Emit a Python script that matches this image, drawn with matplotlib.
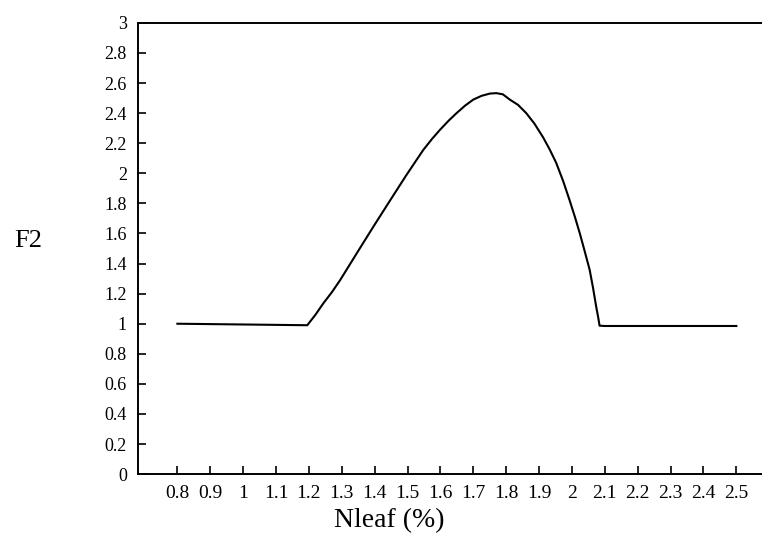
import matplotlib
matplotlib.use("Agg")
import matplotlib.pyplot as plt

# F2 response to leaf nitrogen
nleaf = [0.8, 1.0, 1.195, 1.22, 1.244, 1.27, 1.295, 1.346, 1.396, 1.447,
         1.497, 1.548, 1.575, 1.599, 1.625, 1.649, 1.675, 1.70, 1.725, 1.75,
         1.77, 1.79, 1.811, 1.836, 1.861, 1.886, 1.912, 1.932, 1.952, 1.973,
         1.993, 2.009, 2.024, 2.039, 2.054, 2.064, 2.074, 2.08, 2.084, 2.1,
         2.3, 2.5]
f2 = [1.0, 0.995, 0.99, 1.06, 1.136, 1.21, 1.29, 1.47, 1.645, 1.82,
      1.99, 2.156, 2.23, 2.29, 2.35, 2.40, 2.45, 2.49, 2.515, 2.53,
      2.533, 2.525, 2.49, 2.455, 2.40, 2.33, 2.24, 2.16, 2.07, 1.95,
      1.82, 1.71, 1.60, 1.48, 1.357, 1.24, 1.11, 1.04, 0.987, 0.985,
      0.985, 0.985]

xticks = [0.8, 0.9, 1, 1.1, 1.2, 1.3, 1.4, 1.5, 1.6, 1.7, 1.8,
          1.9, 2, 2.1, 2.2, 2.3, 2.4, 2.5]
yticks = [0, 0.2, 0.4, 0.6, 0.8, 1, 1.2, 1.4, 1.6, 1.8, 2,
          2.2, 2.4, 2.6, 2.8, 3]


def main():
    plt.rcParams['font.family'] = ['Liberation Serif', 'DejaVu Serif']
    fig = plt.figure(figsize=(7.62, 5.45), dpi=100)
    ax = fig.add_axes([0.181, 0.130, 0.819, 0.828])

    ax.plot(nleaf, f2, color="black", linewidth=1.5)

    ax.set_xlim(0.68, 2.578)
    ax.set_ylim(0, 3)
    ax.set_xticks(xticks)
    ax.set_xticklabels(["%g" % v for v in xticks])
    ax.set_yticks(yticks)
    ax.set_yticklabels(["%g" % v for v in yticks])
    ax.tick_params(direction="in", length=6, width=1.2, pad=8)
    ax.tick_params(axis="x", labelsize=14)
    ax.tick_params(axis="y", labelsize=13)

    ax.spines["right"].set_visible(False)
    for side in ("left", "bottom", "top"):
        ax.spines[side].set_linewidth(1.4)

    fig.text(0.511, 0.045, "Nleaf (%)", fontsize=20, ha="center", va="center")
    fig.text(0.037, 0.558, "F2", fontsize=19, ha="center", va="center")

    fig.savefig("out.png", dpi=100)


if __name__ == "__main__":
    main()
